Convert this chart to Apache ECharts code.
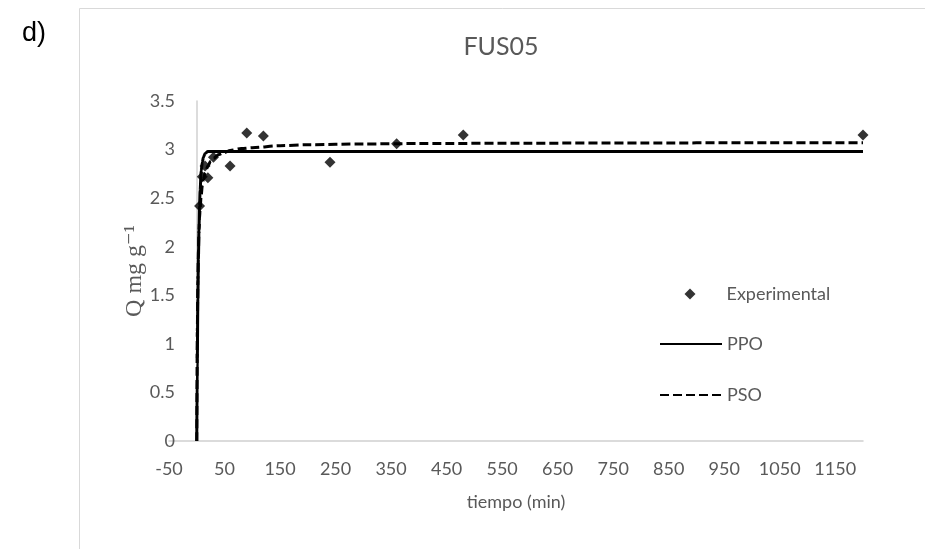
<!DOCTYPE html>
<html>
<head>
<meta charset="utf-8">
<title>FUS05</title>
<script src="https://cdn.jsdelivr.net/npm/echarts@6/dist/echarts.min.js"></script>
<style>
  html, body { margin: 0; padding: 0; background: #ffffff; }
  #chart { width: 925px; height: 549px; }
</style>
</head>
<body>
<div id="chart"></div>
<script>
// Experimental uptake over time (tiempo in min, Q in mg/g)
const expTime = [5, 10, 15, 20, 30, 60, 90, 120, 240, 360, 480, 1200];
const expQ    = [2.42, 2.72, 2.83, 2.71, 2.92, 2.83, 3.17, 3.14, 2.87, 3.06, 3.15, 3.15];

// Pseudo-first-order fitted curve (PPO)
const ppoTime = [0, 1, 2, 3, 4, 5, 6, 8, 10, 12, 15, 20, 30, 60, 1200];
const ppoQ    = [0, 0.85, 1.46, 1.88, 2.17, 2.42, 2.58, 2.78, 2.87, 2.92, 2.96, 2.98, 2.98, 2.98, 2.98];

// Pseudo-second-order fitted curve (PSO)
const psoTime = [0, 1, 2, 3, 4, 5, 6, 8, 10, 12, 15, 20, 25, 30, 40, 50, 60, 80, 100, 150, 200, 300, 400, 600, 800, 1000, 1200];
const psoQ    = [0, 1.13, 1.66, 1.96, 2.16, 2.29, 2.39, 2.53, 2.63, 2.69, 2.76, 2.83, 2.88, 2.91, 2.95, 2.97, 2.99, 3.01, 3.02, 3.04, 3.05, 3.058, 3.062, 3.066, 3.068, 3.07, 3.07];

// Axis settings
const xMin = -50, xMax = 1200, xStep = 100;
const yMin = 0, yMax = 3.5, yStep = 0.5;

const pairs = (xs, ys) => xs.map((x, i) => [x, ys[i]]);

const txt = '#595959';
const axisGray = '#d0d0d0';
const uiFont = 'Lato, "Open Sans", sans-serif';

const chart = echarts.init(document.getElementById('chart'), null, { renderer: 'canvas' });

// line legend entries: keep the stroke, hide the marker dot
const hiddenDot = { color: 'rgba(0,0,0,0)', borderWidth: 0, opacity: 0 };

chart.setOption({
  backgroundColor: '#ffffff',
  animation: false,
  title: {
    text: 'FUS05',
    left: 496,
    top: 29,
    textAlign: 'center',
    textStyle: { color: txt, fontFamily: uiFont, fontSize: 25, fontWeight: 'normal' }
  },
  graphic: [
    { type: 'line', shape: { x1: 79.5, y1: 8.5, x2: 925, y2: 8.5 }, style: { stroke: '#d9d9d9', lineWidth: 1 } },
    { type: 'line', shape: { x1: 79.5, y1: 8.5, x2: 79.5, y2: 549 }, style: { stroke: '#d9d9d9', lineWidth: 1 } },
    { type: 'text', left: 22, top: 20, style: { text: 'd)', fill: '#000000', font: '27px "Liberation Sans", Arial, sans-serif' } }
  ],
  grid: { left: 169, right: 62, top: 101, bottom: 108, containLabel: false },
  legend: [
    {
      // marker entry
      left: 679.5,
      top: 280,
      itemWidth: 11,
      itemHeight: 11,
      textStyle: { color: txt, fontFamily: uiFont, fontSize: 18, padding: [0, 0, 0, 26] },
      data: [{ name: 'Experimental', icon: 'diamond' }]
    },
    {
      // fitted-curve entries
      orient: 'vertical',
      left: 654,
      top: 330,
      itemWidth: 62,
      itemHeight: 10,
      itemGap: 33,
      textStyle: { color: txt, fontFamily: uiFont, fontSize: 18 },
      data: [
        { name: 'PPO', itemStyle: hiddenDot },
        { name: 'PSO', itemStyle: hiddenDot }
      ]
    }
  ],
  xAxis: {
    type: 'value',
    min: xMin, max: xMax, interval: xStep,
    name: 'tiempo (min)',
    nameLocation: 'middle',
    nameGap: 52,
    nameTextStyle: { color: txt, fontFamily: uiFont, fontSize: 18 },
    axisLine: { show: true, lineStyle: { color: axisGray, width: 1.5 } },
    axisTick: { show: false },
    splitLine: { show: false },
    axisLabel: { color: txt, fontFamily: uiFont, fontSize: 18, margin: 19, showMaxLabel: false,
                 formatter: v => String(v) }
  },
  yAxis: {
    type: 'value',
    min: yMin, max: yMax, interval: yStep,
    name: 'Q mg g\u207B\u00B9',
    nameLocation: 'middle',
    nameGap: 22,
    nameMoveOverlap: false,
    nameRotate: 90,
    nameTextStyle: { color: txt, fontFamily: '"Liberation Serif", "DejaVu Serif", serif', fontSize: 24 },
    axisLine: { show: true, onZero: true, lineStyle: { color: axisGray, width: 1.5 } },
    axisTick: { show: false },
    splitLine: { show: false },
    axisLabel: { color: txt, fontFamily: uiFont, fontSize: 18, margin: -6, formatter: v => String(v) }
  },
  series: [
    {
      name: 'PPO',
      type: 'line',
      data: pairs(ppoTime, ppoQ),
      symbol: 'none',
      smooth: 0.3,
      smoothMonotone: 'x',
      lineStyle: { color: '#000000', width: 3 },
      itemStyle: { color: '#000000' },
      z: 3
    },
    {
      name: 'PSO',
      type: 'line',
      data: pairs(psoTime, psoQ),
      symbol: 'none',
      smooth: 0.3,
      smoothMonotone: 'x',
      lineStyle: { color: '#000000', width: 3, type: [9, 4] },
      itemStyle: { color: '#000000' },
      z: 3
    },
    {
      name: 'Experimental',
      type: 'scatter',
      data: pairs(expTime, expQ),
      symbol: 'diamond',
      symbolSize: 11,
      itemStyle: { color: '#000000' },
      z: 4
    }
  ]
});
</script>
</body>
</html>
